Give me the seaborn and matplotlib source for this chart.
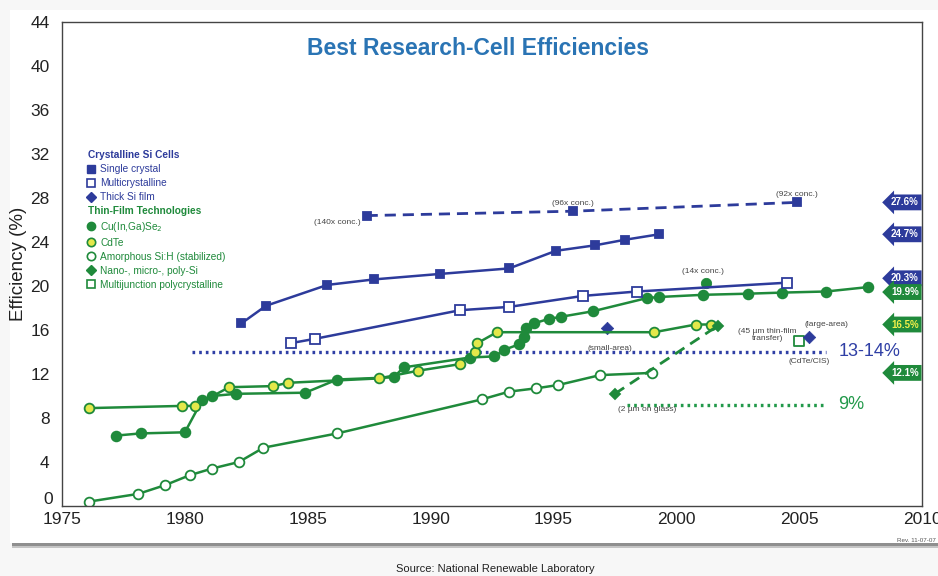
import matplotlib
matplotlib.use("Agg")
import matplotlib.pyplot as plt
import matplotlib.transforms as mtransforms
from matplotlib.lines import Line2D
from matplotlib.patches import Rectangle
from matplotlib.ticker import MultipleLocator, FuncFormatter
import seaborn as sns

# --- values ---
# crystalline Si
sc_years = [1982.3, 1983.3, 1985.8, 1987.7, 1990.4, 1993.2, 1995.1, 1996.7, 1997.9, 1999.3]
sc_eff = [16.6, 18.2, 20.1, 20.6, 21.1, 21.6, 23.2, 23.7, 24.2, 24.7]

conc_years = [1987.4, 1995.8, 2004.9]
conc_eff = [26.4, 26.8, 27.6]
conc_labels = ["(140x conc.)", "(96x conc.)", "(92x conc.)"]

mc_years = [1984.3, 1985.3, 1991.2, 1993.2, 1996.2, 1998.4, 2004.5]
mc_eff = [14.8, 15.2, 17.8, 18.1, 19.1, 19.5, 20.3]

thick_years = [1997.2, 2005.4]
thick_eff = [16.2, 15.4]
thick_labels = ["(small-area)", "(large-area)"]

# thin film
cigs_years = [1977.2, 1978.2, 1980.0, 1980.7, 1981.1, 1982.1, 1984.9, 1986.2, 1988.5,
              1988.9, 1991.6, 1992.6, 1993.0, 1993.6, 1993.8, 1993.9, 1994.2, 1994.8,
              1995.3, 1996.6, 1998.8, 1999.3, 2001.1, 2002.9, 2004.3, 2006.1, 2007.8]
cigs_eff = [6.4, 6.6, 6.7, 9.6, 10.0, 10.2, 10.3, 11.5, 11.7,
            12.6, 13.5, 13.6, 14.2, 14.7, 15.4, 16.2, 16.6, 17.0,
            17.2, 17.7, 18.9, 19.0, 19.2, 19.3, 19.4, 19.5, 19.9]
cigs_conc_years = [2001.2]
cigs_conc_eff = [20.3]

cdte_years = [1976.1, 1979.9, 1980.4, 1981.8, 1983.6, 1984.2, 1987.9, 1989.5, 1991.2,
              1991.8, 1991.9, 1992.7, 1999.1, 2000.8, 2001.4]
cdte_eff = [8.9, 9.1, 9.1, 10.8, 10.9, 11.2, 11.6, 12.3, 12.9,
            14.0, 14.8, 15.8, 15.8, 16.5, 16.5]

asi_years = [1976.1, 1978.1, 1979.2, 1980.2, 1981.1, 1982.2, 1983.2, 1986.2, 1992.1,
             1993.2, 1994.3, 1995.2, 1996.9, 1999.0]
asi_eff = [0.4, 1.1, 1.9, 2.8, 3.4, 4.0, 5.3, 6.6, 9.7,
           10.4, 10.7, 11.0, 11.9, 12.1]

nano_years = [1997.5, 2001.7]
nano_eff = [10.2, 16.4]

mj_years = [2005.0]
mj_eff = [15.0]

# reference bands
ref_levels = [14.0, 9.2]
ref_starts = [1980.3, 1998.0]
ref_ends = [2006.1, 2006.1]
ref_labels = ["13-14%", "9%"]

# record tags on the right
tag_values = [27.6, 24.7, 20.3, 19.9, 16.5, 12.1]
tag_shift = [0, 0, 0.4, -0.45, 0, 0]

BLUE = "#2d3b9b"
GREEN = "#1f8a3b"
YELLOW = "#e4e84a"
TITLE = "#2a74b4"
NOTE = "#444444"

sns.set_style("white")
plt.rcParams["font.family"] = ["Liberation Sans", "DejaVu Sans"]

fig = plt.figure(figsize=(9.38, 5.76), dpi=100)
fig.patch.set_facecolor("#f7f7f7")
# white panel with a soft shadow underneath (kept behind the axes)
fig.add_artist(Rectangle((12 / 938, 28 / 576), 926 / 938, 500 / 576,
                         transform=fig.transFigure, fc="#c4c4c4", ec="none", zorder=-11))
fig.add_artist(Rectangle((12 / 938, 30 / 576), 926 / 938, 500 / 576,
                         transform=fig.transFigure, fc="#8f8f8f", ec="none", zorder=-10))
fig.add_artist(Rectangle((10 / 938, 33 / 576), 928 / 938, 533 / 576,
                         transform=fig.transFigure, fc="white", ec="none", zorder=-9))

ax = fig.add_axes([62 / 938, 70 / 576, 860 / 938, 484 / 576])
ax.set_facecolor("white")


def series(x, y, marker, face, color, ms=7, ls="-", lw=1.8):
    sns.lineplot(x=x, y=y, ax=ax, color=color, marker=marker, markersize=ms,
                 markerfacecolor=face, markeredgecolor=color, markeredgewidth=1.3,
                 linewidth=lw, linestyle=ls, estimator=None, sort=False, legend=False)


# thin film first so the Si lines sit on top
series(asi_years, asi_eff, "o", "white", GREEN)
series(cigs_years, cigs_eff, "o", GREEN, GREEN)
series(cdte_years, cdte_eff, "o", YELLOW, GREEN)
series(nano_years, nano_eff, "D", GREEN, GREEN, ms=5, ls=(0, (4, 2.5)), lw=2)
sns.scatterplot(x=cigs_conc_years, y=cigs_conc_eff, ax=ax, color=GREEN, s=55,
                marker="o", edgecolor=GREEN, legend=False)
sns.scatterplot(x=mj_years, y=mj_eff, ax=ax, s=50, marker="s", facecolor="white",
                edgecolor=GREEN, linewidth=1.3, legend=False)

series(mc_years, mc_eff, "s", "white", BLUE, ms=6.5)
series(sc_years, sc_eff, "s", BLUE, BLUE, ms=6)
series(conc_years, conc_eff, "s", BLUE, BLUE, ms=6, ls=(0, (4, 2.5)), lw=2)
sns.scatterplot(x=thick_years, y=thick_eff, ax=ax, color=BLUE, s=40, marker="D",
                edgecolor=BLUE, legend=False)

# dotted reference bands
for lvl, x0, x1, lab, col in zip(ref_levels, ref_starts, ref_ends, ref_labels, ["#2f3fa5", "#22994a"]):
    ax.plot([x0, x1], [lvl, lvl], color=col, lw=2.4, ls=(0, (0.8, 1.2)), zorder=1)
    ax.text(x1 + 0.5, lvl, lab, color=col, fontsize=13, va="center", ha="left")

# small notes
note = dict(fontsize=6, color=NOTE, ha="center", va="center")
ax.text(conc_years[0] - 1.2, conc_eff[0] - 0.6, conc_labels[0], **note)
ax.text(conc_years[1], conc_eff[1] + 0.7, conc_labels[1], **note)
ax.text(conc_years[2], conc_eff[2] + 0.7, conc_labels[2], **note)
ax.text(cigs_conc_years[0] - 0.1, cigs_conc_eff[0] + 1.0, "(14x conc.)", **note)
ax.text(thick_years[0] + 0.1, thick_eff[0] - 1.9, thick_labels[0], **note)
ax.text(thick_years[1] + 0.7, thick_eff[1] + 1.1, thick_labels[1], **note)
ax.text(nano_years[1] + 2.0, nano_eff[1] - 0.85, "(45 \u00b5m thin-film\ntransfer)",
        linespacing=1.15, **note)
ax.text(nano_years[0] + 1.3, nano_eff[0] - 1.4, "(2 \u00b5m on glass)", **note)
ax.text(mj_years[0] + 0.4, mj_eff[0] - 1.9, "(CdTe/CIS)", **note)

# record tags
tag_style = [(BLUE, "white"), (BLUE, "white"), (BLUE, "white"),
             (GREEN, "white"), (GREEN, "#f2f04a"), (GREEN, "white")]
for v, dv, (fc, tc) in zip(tag_values, tag_shift, tag_style):
    ax.text(2009.3, v + dv, f"{v:.1f}%", fontsize=7, fontweight="bold", color=tc,
            ha="center", va="center",
            bbox=dict(boxstyle="larrow,pad=0.3", fc=fc, ec="none"))

# axes styling
ax.set_xlim(1975, 2010)
ax.set_ylim(0, 44)
ax.xaxis.set_major_locator(MultipleLocator(5))
ax.xaxis.set_minor_locator(MultipleLocator(1))
ax.yaxis.set_major_locator(MultipleLocator(4))
# "0" is written separately a little above its tick so it clears "1975"
ax.yaxis.set_major_formatter(FuncFormatter(lambda v, p: "" if v == 0 else f"{v:g}"))
ax.tick_params(axis="both", which="major", direction="in", length=10, width=1,
               color="#333333", labelsize=12.5, labelcolor="#222222")
ax.tick_params(axis="x", which="minor", direction="in", length=6, width=1, color="#333333")
ax.tick_params(axis="x", which="major", pad=4)
ax.tick_params(axis="y", which="major", pad=9)
ax.annotate("0", xy=(0, 0), xycoords=("axes fraction", "data"), xytext=(-6.5, 4.5),
            textcoords="offset points", ha="right", va="center", fontsize=12.5,
            color="#222222", annotation_clip=False)
for s in ax.spines.values():
    s.set_color("#444444")
    s.set_linewidth(1.0)
ax.set_xlabel("")
ax.set_ylabel("Efficiency (%)", fontsize=13.5, color="#222222", labelpad=2)

ax.text(0.484, 0.946, "Best Research-Cell Efficiencies", transform=ax.transAxes,
        ha="center", va="center", fontsize=16.5, fontweight="bold", color=TITLE)

# legend with two group headers
blank = Line2D([], [], ls="none")
handles = [
    blank,
    Line2D([], [], ls="none", marker="s", mfc=BLUE, mec=BLUE, ms=5.5),
    Line2D([], [], ls="none", marker="s", mfc="white", mec=BLUE, ms=5.5, mew=1.2),
    Line2D([], [], ls="none", marker="D", mfc=BLUE, mec=BLUE, ms=5),
    blank,
    Line2D([], [], ls="none", marker="o", mfc=GREEN, mec=GREEN, ms=6),
    Line2D([], [], ls="none", marker="o", mfc=YELLOW, mec=GREEN, ms=6, mew=1.2),
    Line2D([], [], ls="none", marker="o", mfc="white", mec=GREEN, ms=6, mew=1.2),
    Line2D([], [], ls="none", marker="D", mfc=GREEN, mec=GREEN, ms=5),
    Line2D([], [], ls="none", marker="s", mfc="white", mec=GREEN, ms=6, mew=1.2),
]
labels = ["Crystalline Si Cells", "Single crystal", "Multicrystalline", "Thick Si film",
          "Thin-Film Technologies", "Cu(In,Ga)Se$_2$", "CdTe", "Amorphous Si:H (stabilized)",
          "Nano-, micro-, poly-Si", "Multijunction polycrystalline"]
leg = ax.legend(handles, labels, loc="upper left", bbox_to_anchor=(0.028, 0.735),
                frameon=False, fontsize=7.3, handlelength=0.9, handletextpad=0.5,
                labelspacing=0.39, borderpad=0, borderaxespad=0)
shift = mtransforms.ScaledTranslation(-9.0 / 72, 0, fig.dpi_scale_trans)
for i, t in enumerate(leg.get_texts()):
    if i in (0, 4):
        t.set_fontweight("bold")
        t.set_transform(t.get_transform() + shift)
        t.set_color(BLUE if i == 0 else GREEN)
    else:
        t.set_color(BLUE if i < 4 else GREEN)

fig.text(0.998, 0.0625, "Rev. 11-07-07", fontsize=4.5, color="#555555", ha="right", va="center")
fig.text(495 / 938, 0.013, "Source: National Renewable Laboratory", fontsize=8,
         color="#222222", ha="center", va="center")

fig.savefig("out.png", dpi=100)
